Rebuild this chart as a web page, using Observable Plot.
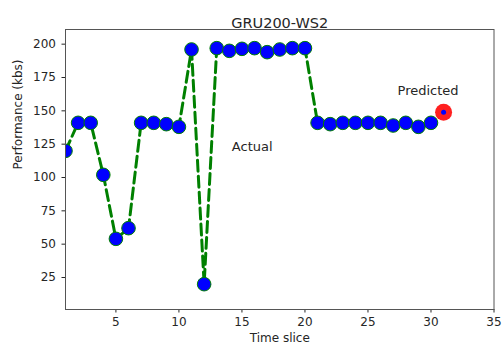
<!DOCTYPE html>
<html>
<head>
<meta charset="utf-8">
<script src="https://cdn.jsdelivr.net/npm/d3@7"></script>
<script src="https://cdn.jsdelivr.net/npm/@observablehq/plot@0.6"></script>
<style>
  html, body { margin: 0; padding: 0; background: #fff; }
  svg { font-family: "DejaVu Sans", sans-serif; }
</style>
</head>
<body>
<div id="chart"></div>
<script>
// Observed throughput per time slice
const timeSlices = [1, 2, 3, 4, 5, 6, 7, 8, 9, 10, 11, 12, 13, 14, 15, 16, 17, 18, 19, 20,
                    21, 22, 23, 24, 25, 26, 27, 28, 29, 30];
const performance = [120, 141, 141, 102, 54, 62, 141, 141, 140, 138, 196, 20, 197, 195, 196.5, 197, 194, 196, 197, 197,
                     141, 140, 141, 141, 141, 141, 139, 141, 138, 141];

// Forecast for the next slice
const predictedSlice = [31];
const predictedValue = [149];

const xTicks = [5, 10, 15, 20, 25, 30, 35];
const yTicks = [25, 50, 75, 100, 125, 150, 175, 200];

const actual = timeSlices.map((t, i) => ({t, v: performance[i]}));
const predicted = predictedSlice.map((t, i) => ({t, v: predictedValue[i]}));

const ink = "#262626";

const chart = Plot.plot({
  width: 503,
  height: 349,
  marginLeft: 65,
  marginRight: 9.5,
  marginTop: 29,
  marginBottom: 40,
  style: {fontFamily: "DejaVu Sans, sans-serif", fontSize: "12px", color: ink, background: "#fff"},
  x: {domain: [1, 35]},
  y: {domain: [1, 211]},
  marks: [
    Plot.line(actual, {x: "t", y: "v", stroke: "#008000", strokeWidth: 3, strokeDasharray: "11,5", clip: true}),
    Plot.dot(actual, {x: "t", y: "v", r: 6.8, fill: "#0000ff", stroke: "#008000", strokeWidth: 1, clip: true}),
    Plot.dot(predicted, {x: "t", y: "v", r: 8.5, fill: "#ff2020", stroke: "none", clip: true}),
    Plot.dot(predicted, {x: "t", y: "v", r: 2.5, fill: "#0000ff", stroke: "none", clip: true}),
    Plot.text(["Actual"], {x: 14.2, y: 123, text: d => d, textAnchor: "start", fontSize: 13, fill: ink}),
    Plot.text(["Predicted"], {x: 27.35, y: 165, text: d => d, textAnchor: "start", fontSize: 13, fill: ink}),
    Plot.axisX({ticks: xTicks, tickSize: 3.5, tickPadding: 4, label: null, fontSize: 12}),
    Plot.axisY({ticks: yTicks, tickSize: 3.5, tickPadding: 6, label: null, fontSize: 12}),
    Plot.text(["Time slice"], {frameAnchor: "bottom", dy: 32.5, text: d => d, fontSize: 12, fill: ink}),
    Plot.text(["Performance (kbs)"], {frameAnchor: "left", dx: -47, rotate: -90, text: d => d, fontSize: 12, fill: ink}),
    Plot.text(["GRU200-WS2"], {frameAnchor: "top", dy: -11.5, text: d => d, fontSize: 14.5, fill: ink}),
    Plot.frame({stroke: "#555", strokeWidth: 1})
  ]
});
document.getElementById("chart").appendChild(chart);
</script>
</body>
</html>
